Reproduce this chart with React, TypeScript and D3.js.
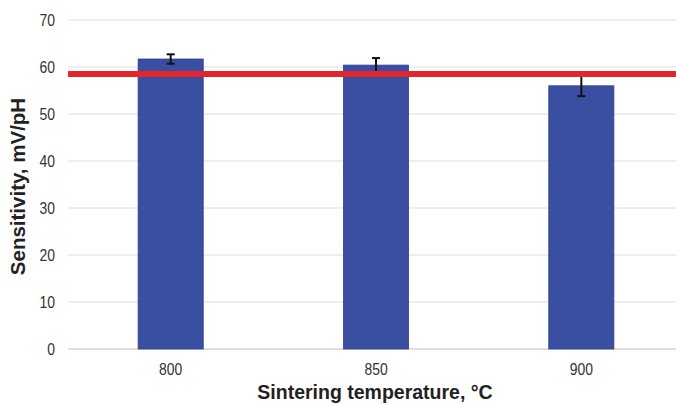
import React from "react";
import * as d3 from "d3";

// Data
const temperatures = ["800", "850", "900"];
const sensitivity = [61.7, 60.4, 56.0];
const errors = [1.0, 1.5, 2.2];
const nernstLimit = 58.5;
const yTicks = [0, 10, 20, 30, 40, 50, 60, 70];

const width = 676;
const height = 405;
const margin = { top: 20, right: -8, bottom: 56, left: 68 };

export default function App() {
    const x = d3
        .scaleBand<string>()
        .domain(temperatures)
        .range([margin.left, width - margin.right])
        .paddingInner(0.683)
        .paddingOuter(0.3415);

    const y = d3
        .scaleLinear()
        .domain([0, 70])
        .range([height - margin.bottom, margin.top]);

    const font = "'Liberation Sans', Arial, sans-serif";
    const capW = 4;
    // tick labels in the reference are tall and narrow
    const tickSize = 17;
    const squeeze = 0.82;

    return (
        <div style={{ position: "fixed", left: 0, top: 0, width, height, background: "#fff" }}>
            <svg width={width} height={height} style={{ display: "block" }} fontFamily={font}>
                {/* grid lines */}
                {yTicks.map((t) => (
                    <line
                        key={t}
                        x1={margin.left}
                        x2={width}
                        y1={y(t)}
                        y2={y(t)}
                        stroke={t === 0 ? "#d4d4d4" : "#dedede"}
                        strokeWidth={t === 0 ? 1.5 : 1}
                    />
                ))}
                {yTicks.map((t) => (
                    <text
                        key={"l" + t}
                        transform={`translate(55, ${y(t)}) scale(${squeeze}, 1)`}
                        dy="0.36em"
                        textAnchor="end"
                        fontSize={tickSize}
                        fill="#333"
                    >
                        {t}
                    </text>
                ))}

                {/* bars */}
                {temperatures.map((t, i) => (
                    <rect
                        key={t}
                        x={x(t)}
                        y={y(sensitivity[i])}
                        width={x.bandwidth()}
                        height={y(0) - y(sensitivity[i])}
                        fill="#3a4ea2"
                        stroke="#2e3f8c"
                        strokeWidth={0.8}
                    />
                ))}

                {/* error bars */}
                {temperatures.map((t, i) => {
                    const cx = (x(t) ?? 0) + x.bandwidth() / 2;
                    const hi = y(sensitivity[i] + errors[i]);
                    const lo = y(sensitivity[i] - errors[i]);
                    return (
                        <g key={"e" + t} stroke="#111" strokeWidth={2}>
                            <line x1={cx} x2={cx} y1={hi} y2={lo} />
                            <line x1={cx - capW} x2={cx + capW} y1={hi} y2={hi} />
                            <line x1={cx - capW} x2={cx + capW} y1={lo} y2={lo} />
                        </g>
                    );
                })}

                {/* red reference line */}
                <line
                    x1={margin.left}
                    x2={width}
                    y1={y(nernstLimit)}
                    y2={y(nernstLimit)}
                    stroke="#e2262a"
                    strokeWidth={6}
                />

                {/* x tick labels */}
                {temperatures.map((t) => (
                    <text
                        key={"x" + t}
                        transform={`translate(${(x(t) ?? 0) + x.bandwidth() / 2}, 375) scale(${squeeze}, 1)`}
                        textAnchor="middle"
                        fontSize={tickSize}
                        fill="#333"
                    >
                        {t}
                    </text>
                ))}

                {/* axis titles */}
                <text
                    x={375}
                    y={399}
                    textAnchor="middle"
                    fontSize={19.5}
                    fontWeight="bold"
                    fill="#222"
                >
                    Sintering temperature, °C
                </text>
                <text
                    transform={`translate(25, ${(y(0) + y(70)) / 2 + 2}) rotate(-90)`}
                    textAnchor="middle"
                    fontSize={20.5}
                    fontWeight="bold"
                    fill="#222"
                >
                    Sensitivity, mV/pH
                </text>
            </svg>
        </div>
    );
}
